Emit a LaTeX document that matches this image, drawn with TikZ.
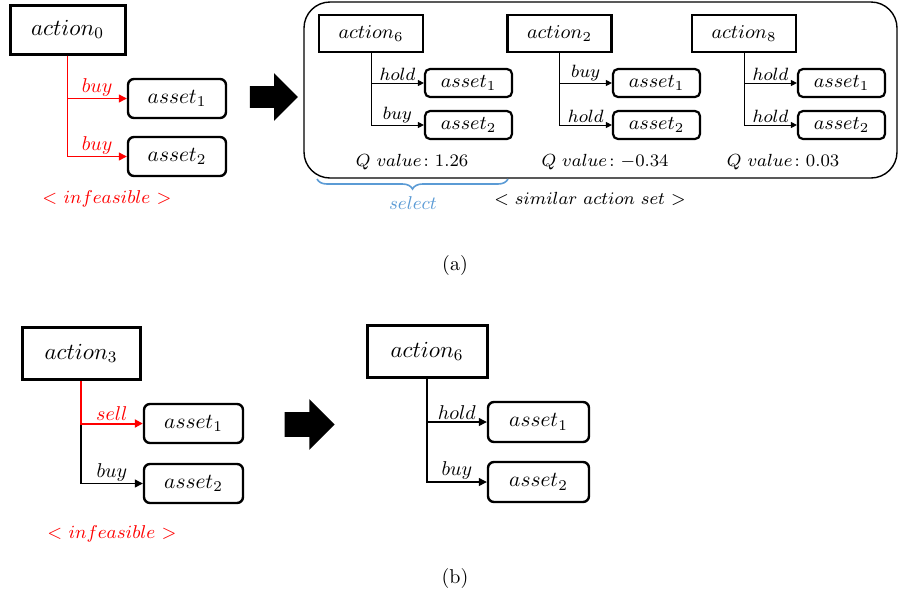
\RequirePackage{fix-cm}
\documentclass[tikz,border=0pt]{standalone}
\usepackage{amsmath}
\usepackage{tikz}
\usetikzlibrary{arrows.meta,shapes.arrows,positioning,decorations.pathreplacing}
\definecolor{selblue}{RGB}{91,155,213}
\tikzset{
  actbox/.style   = {draw, line width=1.5pt, inner sep=0pt, minimum width=59pt,
                     minimum height=26pt, font=\fontsize{11.5}{13}\selectfont},
  actsmall/.style = {draw, line width=1.3pt, inner sep=0pt, minimum width=52pt,
                     minimum height=18.5pt, font=\fontsize{9.8}{11}\selectfont},
  assetbox/.style = {draw, line width=1.2pt, rounded corners=3pt, inner sep=0pt,
                     minimum width=49pt, minimum height=19.5pt, font=\fontsize{10.7}{12}\selectfont},
  assetsmall/.style = {draw, line width=1.1pt, rounded corners=2.5pt, inner sep=0pt,
                     minimum width=43.5pt, minimum height=14pt, font=\fontsize{9.8}{11}\selectfont},
  branch/.style   = {->, line width=0.6pt, >={Triangle[length=4pt,width=4pt]}},
  branchsmall/.style = {->, line width=0.5pt, >={Triangle[length=3pt,width=3pt]}},
  lbl/.style      = {inner sep=1pt, font=\fontsize{10}{11}\selectfont},
  lblsmall/.style = {inner sep=1pt, font=\fontsize{8.9}{10}\selectfont},
  qval/.style     = {font=\fontsize{8.8}{10}\selectfont},
  bigarrow/.style = {single arrow, fill=black, inner xsep=0pt, inner ysep=5.25pt,
                     minimum height=24pt, single arrow head extend=6.5pt,
                     single arrow tip angle=90},
}

\begin{document}
\begin{tikzpicture}[x=0.5pt, y=-0.5pt]
  \useasboundingbox (0,0) rectangle (899,596);
  %(a) infeasible action
  \node[actbox, minimum width=57.5pt, minimum height=24.5pt] (act0) at (67.5,29.5) {$action_0$};
  \node[assetbox] (act0as1) at (177,98.5) {$asset_1$};
  \node[assetbox] (act0as2) at (177,156.5) {$asset_2$};
  \draw[branch, red] (act0.south) |- node[lbl, pos=0.75, above] {$buy$} (act0as1.west);
  \draw[branch, red] (act0.south) |- node[lbl, pos=0.75, above] {$buy$} (act0as2.west);
  \node[red, font=\fontsize{9.3}{11}\selectfont] (infa) at (107,199) {$<$ $infeasible$ $>$};

  \node[bigarrow] (arra) at (268.5,97) {};

  %(a) similar action set
  \draw[rounded corners=13pt, line width=0.7pt] (304,2) rectangle (897,178);

  \node[actsmall] (act6) at (371,33.5) {$action_6$};
  \node[assetsmall] (act6as1) at (468.5,83) {$asset_1$};
  \node[assetsmall] (act6as2) at (468.5,125) {$asset_2$};
  \draw[branchsmall] (act6.south) |- node[lblsmall, pos=0.75, above] {$hold$} (act6as1.west);
  \draw[branchsmall] (act6.south) |- node[lblsmall, pos=0.75, above] {$buy$} (act6as2.west);
  \node[qval] (q6) at (412,162) {$Q\ value\colon 1.26$};

  \node[actsmall] (act2) at (559.5,33.5) {$action_2$};
  \node[assetsmall] (act2as1) at (656.5,83) {$asset_1$};
  \node[assetsmall] (act2as2) at (656.5,125) {$asset_2$};
  \draw[branchsmall] (act2.south) |- node[lblsmall, pos=0.75, above] {$buy$} (act2as1.west);
  \draw[branchsmall] (act2.south) |- node[lblsmall, pos=0.75, above] {$hold$} (act2as2.west);
  \node[qval] (q2) at (605,162) {$Q\ value\colon {-0.34}$};

  \node[actsmall] (act8) at (744,33.5) {$action_8$};
  \node[assetsmall] (act8as1) at (841.5,83) {$asset_1$};
  \node[assetsmall] (act8as2) at (841.5,125) {$asset_2$};
  \draw[branchsmall] (act8.south) |- node[lblsmall, pos=0.75, above] {$hold$} (act8as1.west);
  \draw[branchsmall] (act8.south) |- node[lblsmall, pos=0.75, above] {$hold$} (act8as2.west);
  \node[qval] (q8) at (783,162) {$Q\ value\colon 0.03$};

  \coordinate (brl) at (317,179);
  \coordinate (brr) at (508,179);
  \draw[selblue, line width=0.8pt, decorate, decoration={brace, mirror, amplitude=5pt}] (brl) -- (brr);
  \node[selblue, font=\fontsize{9.3}{11}\selectfont] (sel) at (413,203) {$select$};
  \node[qval] (simset) at (590,199) {$<$ $similar\ action\ set$ $>$};

  \node[font=\fontsize{10}{12}\selectfont] (capa) at (455,265) {(a)};

  %(b) replaced by the selected action
  \node[actbox] (act3) at (81,353.5) {$action_3$};
  \node[assetbox, minimum width=49.5pt] (act3as1) at (193.5,423.5) {$asset_1$};
  \node[assetbox, minimum width=49.5pt] (act3as2) at (193.5,483.5) {$asset_2$};
  \draw[branch] (act3.south) |- node[lbl, pos=0.75, above] {$buy$} (act3as2.west);
  \draw[branch, red, line width=1pt] (act3.south) |- node[lbl, pos=0.75, above] {$sell$} (act3as1.west);
  \node[red, font=\fontsize{9.3}{11}\selectfont] (infb) at (112,534) {$<$ $infeasible$ $>$};

  \node[bigarrow, minimum height=25pt, inner ysep=6pt] (arrb) at (303.5,424.5) {};

  \node[actbox, minimum width=60pt] (act6b) at (427,351.5) {$action_6$};
  \node[assetbox, minimum width=50.5pt, minimum height=20pt] (act6bas1) at (538.5,422) {$asset_1$};
  \node[assetbox, minimum width=50.5pt, minimum height=20pt] (act6bas2) at (538.5,482) {$asset_2$};
  \draw[branch] (act6b.south) |- node[lbl, pos=0.75, above] {$hold$} (act6bas1.west);
  \draw[branch] (act6b.south) |- node[lbl, pos=0.75, above] {$buy$} (act6bas2.west);

  \node[font=\fontsize{10}{12}\selectfont] (capb) at (455,578) {(b)};
\end{tikzpicture}
\end{document}
